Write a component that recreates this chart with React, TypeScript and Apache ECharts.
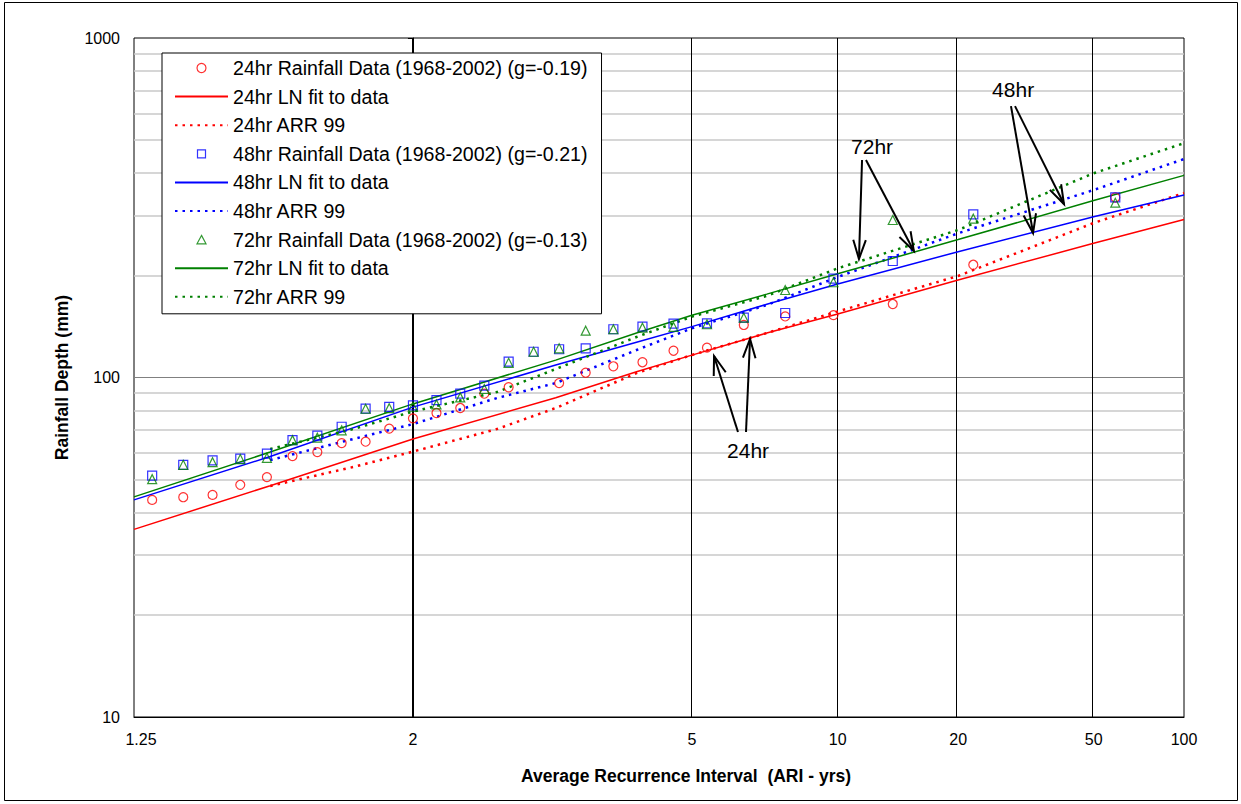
import React, { useEffect, useRef } from 'react';
import * as echarts from 'echarts';

// ---------- data (ARI in years, depth in mm) ----------
const pointAri = [1.275, 1.323, 1.375, 1.431, 1.492, 1.558, 1.630, 1.709, 1.796, 1.892, 2.0, 2.120, 2.256, 2.411, 2.588, 2.794, 3.034, 3.321, 3.667, 4.093, 4.632, 5.333, 6.286, 7.652, 9.778, 13.54, 22.0, 58.67];
const rain24: (number | null)[] = [43.6, 44.4, 45.1, 48.3, 50.9, 58.7, 60.3, 64.1, 64.7, 70.7, 75.8, 78.6, 81.3, 89.6, 93.6, null, 96.3, 103.3, 107.9, 110.9, 119.9, 122.4, 142.8, 151.3, 152.6, 164.6, 214.8, 339.0];
const rain48 = [51.4, 55.3, 57.0, 57.7, 59.7, 65.4, 67.4, 71.6, 81.0, 81.9, 82.8, 85.8, 89.7, 94.6, 111.3, 119.1, 121.1, 121.9, 138.7, 141.2, 144.1, 144.3, 150.0, 154.9, 195.6, 220.4, 302.5, 339.5];
const rain72 = [50.2, 55.3, 56.3, 57.5, 58.0, 65.4, 66.5, 69.9, 80.9, 81.2, 82.0, 83.3, 87.4, 92.5, 110.5, 119.1, 121.9, 137.4, 138.7, 140.2, 140.9, 143.5, 150.0, 181.0, 190.8, 291.0, 293.6, 327.2];

const fitAri = [1.25, 1.5, 2, 3, 4, 5, 7, 10, 20, 50, 100];
const fit24 = [35.7, 48.0, 65.9, 87.2, 104.0, 116.4, 135.2, 153.8, 193.7, 248.5, 292.0];
const fit48 = [43.6, 58.5, 81.8, 108.8, 127.0, 141.2, 164.3, 188.6, 234.7, 297.6, 344.8];
const fit72 = [44.5, 60.3, 83.6, 112.5, 135.2, 152.5, 176.0, 202.0, 254.8, 332.0, 393.9];

const arrAri = [1.5, 1.75, 2, 2.5, 3, 4, 5, 7, 10, 20, 50, 100];
const arr24 = [47.9, 54.5, 60.5, 70.5, 81.3, 103.0, 116.5, 135.2, 156.5, 199.1, 285.2, 349.4];
const arr48 = [57.1, 65.9, 72.9, 87.0, 96.3, 120.5, 139.6, 163.5, 197.7, 266.0, 356.7, 440.0];
const arr72 = [61.6, 70.5, 79.4, 90.6, 105.9, 131.6, 151.1, 173.9, 209.7, 272.0, 399.5, 490.0];

const xTickAri = [1.25, 2, 5, 10, 20, 50, 100];
const xTickLabels = ['1.25', '2', '5', '10', '20', '50', '100'];
const verticalLineAri = [2, 5, 10, 20, 50];
const minorGridMm = [20, 30, 40, 50, 60, 70, 80, 90, 200, 300, 400, 500, 600, 700, 800, 900];
const majorGridMm = [100];

const seriesNames = [
  '24hr Rainfall Data (1968-2002) (g=-0.19)',
  '24hr LN fit to data',
  '24hr ARR 99',
  '48hr Rainfall Data (1968-2002) (g=-0.21)',
  '48hr LN fit to data',
  '48hr ARR 99',
  '72hr Rainfall Data (1968-2002) (g=-0.13)',
  '72hr LN fit to data',
  '72hr ARR 99',
];

// annotation texts [label, ARI, mm] and arrows [tailARI, tailMm, headARI, headMm]
const annotationTexts: [string, number, number][] = [
  ['72hr', 12.05, 477.6],
  ['48hr', 28.5, 705],
  ['24hr', 6.41, 60.75],
];
const annotationArrows = [
  [11.4, 437, 11.21, 223.4],
  [11.65, 437, 15.3, 235.9],
  [28.1, 630, 32.6, 266.4],
  [28.86, 630, 40.4, 324.3],
  [6.12, 69.1, 5.5, 115.7],
  [6.35, 69.1, 6.47, 129.9],
];

// ---------- normal probability scale ----------
function normInv(p: number): number {
  const a = [-3.969683028665376e1, 2.209460984245205e2, -2.759285104469687e2, 1.38357751867269e2, -3.066479806614716e1, 2.506628277459239];
  const b = [-5.447609879822406e1, 1.615858368580409e2, -1.556989798598866e2, 6.680131188771972e1, -1.328068155288572e1];
  const c = [-7.784894002430293e-3, -3.223964580411365e-1, -2.400758277161838, -2.549732539343734, 4.374664141464968, 2.938163982698783];
  const d = [7.784695709041462e-3, 3.224671290700398e-1, 2.445134137142996, 3.754408661907416];
  const pl = 0.02425;
  if (p < pl) {
    const q = Math.sqrt(-2 * Math.log(p));
    return (((((c[0] * q + c[1]) * q + c[2]) * q + c[3]) * q + c[4]) * q + c[5]) / ((((d[0] * q + d[1]) * q + d[2]) * q + d[3]) * q + 1);
  }
  if (p <= 1 - pl) {
    const q = p - 0.5;
    const r = q * q;
    return ((((((a[0] * r + a[1]) * r + a[2]) * r + a[3]) * r + a[4]) * r + a[5]) * q) / (((((b[0] * r + b[1]) * r + b[2]) * r + b[3]) * r + b[4]) * r + 1);
  }
  const q = Math.sqrt(-2 * Math.log(1 - p));
  return -(((((c[0] * q + c[1]) * q + c[2]) * q + c[3]) * q + c[4]) * q + c[5]) / ((((d[0] * q + d[1]) * q + d[2]) * q + d[3]) * q + 1);
}
const ariToZ = (t: number) => normInv(1 - 1 / t);

const FONT = "'Liberation Sans', Arial, sans-serif";
const RED = '#ff0000';
const BLUE = '#0000ff';
const GREEN = '#008000';
const CLEAR = 'rgba(255,255,255,0)';

// legend marker icons: 53x9 box with the marker centred (move-to corners keep the box size)
const ICON_RECT = 'path://M0,0M53,9M22.5,0.5L30.5,0.5L30.5,8.5L22.5,8.5Z';
const ICON_TRI = 'path://M0,0M53,9M26.5,0.3L31,8.7L22,8.7Z';

const pairs = (xs: number[], ys: (number | null)[]) =>
  xs.map((x, i) => (ys[i] == null ? null : [ariToZ(x), ys[i] as number])).filter((v) => v !== null);

const scatter = (name: string, ys: (number | null)[], color: string, symbol: string, size: number) => ({
  name,
  type: 'scatter',
  symbol,
  symbolSize: size,
  symbolKeepAspect: true,
  itemStyle: { color: CLEAR, borderColor: color, borderWidth: 1.2 },
  data: pairs(pointAri, ys),
  z: 4,
});
const fitLine = (name: string, ys: number[], color: string) => ({
  name,
  type: 'line',
  symbol: 'none',
  showSymbol: false,
  lineStyle: { color, width: 1.5, type: 'solid' },
  itemStyle: { color: CLEAR, borderColor: CLEAR, borderWidth: 0 },
  data: pairs(fitAri, ys),
  z: 3,
});
const arrLine = (name: string, ys: number[], color: string) => ({
  name,
  type: 'line',
  symbol: 'none',
  showSymbol: false,
  lineStyle: { color, width: 2.5, type: [2.5, 5] },
  itemStyle: { color: CLEAR, borderColor: CLEAR, borderWidth: 0 },
  data: pairs(arrAri, ys),
  z: 3,
});

export default function App() {
  const ref = useRef<HTMLDivElement>(null);
  useEffect(() => {
    if (!ref.current) return;
    const chart = echarts.init(ref.current, undefined, { renderer: 'svg' });
    const zMin = ariToZ(1.25);
    const zMax = ariToZ(100);
    const tickZ = xTickAri.map(ariToZ);

    const legendData = seriesNames.map((name, i) => {
      const markerColor = [RED, RED, RED, BLUE, BLUE, BLUE, GREEN, GREEN, GREEN][i];
      if (i === 3) return { name, icon: ICON_RECT, itemStyle: { color: CLEAR, borderColor: markerColor, borderWidth: 1.2 } };
      if (i === 6) return { name, icon: ICON_TRI, itemStyle: { color: CLEAR, borderColor: markerColor, borderWidth: 1.2 } };
      if (i === 0) return { name, itemStyle: { color: CLEAR, borderColor: markerColor, borderWidth: 1.2 } };
      return { name, itemStyle: { color: CLEAR, borderColor: CLEAR, borderWidth: 0, opacity: 0 } };
    });

    const option: any = {
      animation: false,
      backgroundColor: '#fff',
      grid: { left: 134, top: 38, width: 1050, height: 679, show: true, borderColor: '#000', borderWidth: 1, backgroundColor: '#fff' },
      graphic: [
        { type: 'rect', shape: { x: 4.5, y: 2.5, width: 1233, height: 798 }, style: { fill: 'none', stroke: '#000', lineWidth: 1 }, silent: true },
      ],
      legend: {
        left: 162,
        top: 53,
        orient: 'vertical',
        padding: [5, 14, 7, 12],
        borderColor: '#000',
        borderWidth: 1,
        backgroundColor: '#fff',
        itemWidth: 53,
        itemHeight: 9,
        itemGap: 8.6,
        selectedMode: false,
        symbolKeepAspect: true,
        textStyle: { fontFamily: FONT, fontSize: 19.6, color: '#000', lineHeight: 20 },
        data: legendData,
        z: 10,
      },
      xAxis: {
        type: 'value',
        min: zMin,
        max: zMax,
        axisLine: { show: true, onZero: false, lineStyle: { color: '#000', width: 1 } },
        axisTick: { show: false },
        splitLine: { show: false },
        axisLabel: {
          customValues: tickZ,
          hideOverlap: false,
          showMinLabel: true,
          showMaxLabel: true,
          margin: 14,
          color: '#000',
          fontFamily: FONT,
          fontSize: 16,
          formatter: (v: number) => {
            let best = 0;
            tickZ.forEach((z, i) => {
              if (Math.abs(z - v) < Math.abs(tickZ[best] - v)) best = i;
            });
            return best === 0 ? '{first|' + xTickLabels[best] + '}' : xTickLabels[best];
          },
          rich: { first: { padding: [0, 0, 0, 14], fontFamily: FONT, fontSize: 16, color: '#000' } },
        },
        name: 'Average Recurrence Interval  (ARI - yrs)',
        nameLocation: 'middle',
        nameGap: 50,
        nameTextStyle: { fontFamily: FONT, fontWeight: 'bold', fontSize: 17.5, color: '#000', padding: [0, 0, 0, 54] },
      },
      yAxis: {
        type: 'log',
        logBase: 10,
        min: 10,
        max: 1000,
        axisLine: { show: true, lineStyle: { color: '#000', width: 1 } },
        axisTick: { show: true, length: 5, inside: false, lineStyle: { color: '#000' } },
        splitLine: { show: false },
        axisLabel: { margin: 14, color: '#000', fontFamily: FONT, fontSize: 16, formatter: (v: number) => String(Math.round(v)) },
        name: 'Rainfall Depth (mm)',
        nameLocation: 'middle',
        nameGap: 63,
        nameTextStyle: { fontFamily: FONT, fontWeight: 'bold', fontSize: 17.5, color: '#000' },
      },
      series: [
        {
          name: 'gridlines',
          type: 'line',
          data: [[zMin, 10]],
          symbol: 'none',
          showSymbol: false,
          lineStyle: { width: 0 },
          silent: true,
          z: 1,
          markLine: {
            silent: true,
            z: 1,
            symbol: ['none', 'none'],
            label: { show: false },
            data: [
              ...minorGridMm.map((v) => ({ yAxis: v, lineStyle: { color: '#c8c8c8', width: 1.5, type: 'solid' } })),
              ...majorGridMm.map((v) => ({ yAxis: v, lineStyle: { color: '#808080', width: 1, type: 'solid' } })),
              ...verticalLineAri.map((a) => ({ xAxis: ariToZ(a), lineStyle: { color: '#000', width: a === 2 ? 2 : 1, type: 'solid' } })),
            ],
          },
        },
        scatter(seriesNames[0], rain24, RED, 'circle', 9),
        fitLine(seriesNames[1], fit24, RED),
        arrLine(seriesNames[2], arr24, RED),
        scatter(seriesNames[3], rain48, BLUE, 'rect', 9),
        fitLine(seriesNames[4], fit48, BLUE),
        arrLine(seriesNames[5], arr48, BLUE),
        scatter(seriesNames[6], rain72, GREEN, 'triangle', 9),
        fitLine(seriesNames[7], fit72, GREEN),
        arrLine(seriesNames[8], arr72, GREEN),
        {
          name: 'arrows',
          type: 'custom',
          clip: false,
          silent: true,
          z: 6,
          encode: { x: [0, 2], y: [1, 3] },
          data: annotationArrows.map((r) => [ariToZ(r[0]), r[1], ariToZ(r[2]), r[3]]),
          renderItem: (_p: any, api: any) => {
            const p1 = api.coord([api.value(0), api.value(1)]);
            const p2 = api.coord([api.value(2), api.value(3)]);
            const ang = Math.atan2(p2[1] - p1[1], p2[0] - p1[0]);
            const L = 20;
            const h = 0.32;
            const w1 = [p2[0] - L * Math.cos(ang - h), p2[1] - L * Math.sin(ang - h)];
            const w2 = [p2[0] - L * Math.cos(ang + h), p2[1] - L * Math.sin(ang + h)];
            return {
              type: 'group',
              children: [
                { type: 'line', shape: { x1: p1[0], y1: p1[1], x2: p2[0], y2: p2[1] }, style: { stroke: '#000', lineWidth: 2 } },
                { type: 'polyline', shape: { points: [w1, p2, w2] }, style: { stroke: '#000', lineWidth: 2, fill: null } },
              ],
            };
          },
        },
        {
          name: 'annotationText',
          type: 'custom',
          clip: false,
          silent: true,
          z: 6,
          encode: { x: 0, y: 1 },
          data: annotationTexts.map((t, i) => [ariToZ(t[1]), t[2], i]),
          renderItem: (_p: any, api: any) => {
            const p = api.coord([api.value(0), api.value(1)]);
            const idx = api.value(2);
            return {
              type: 'text',
              x: p[0],
              y: p[1],
              style: { text: annotationTexts[idx][0], align: 'center', verticalAlign: 'middle', fontFamily: FONT, fontSize: 21, fill: '#000' },
            };
          },
        },
      ],
    };
    chart.setOption(option);
    return () => chart.dispose();
  }, []);
  return <div ref={ref} style={{ position: 'fixed', left: 0, top: 0, width: 1241, height: 804, background: '#fff' }} />;
}
